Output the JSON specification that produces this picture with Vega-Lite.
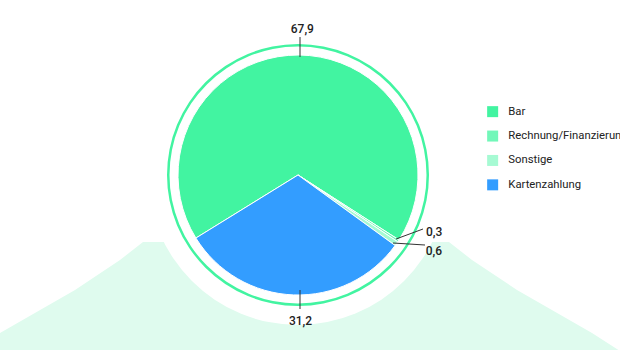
{
  "$schema": "https://vega.github.io/schema/vega-lite/v6.json",
  "width": 620,
  "height": 350,
  "padding": 0,
  "autosize": {"type": "none"},
  "background": "white",
  "config": {
    "view": {"stroke": null},
    "font": "Roboto",
    "locale": {"number": {"decimal": ",", "thousands": ".", "grouping": [3], "currency": ["", " €"]}},
    "legend": {
      "orient": "none",
      "legendX": 487,
      "legendY": 106,
      "symbolType": "square",
      "symbolSize": 121,
      "symbolStrokeWidth": 0,
      "labelFont": "Roboto",
      "labelFontSize": 11.3,
      "labelColor": "#222222",
      "labelOffset": 10,
      "labelLimit": 0,
      "rowPadding": 11.4
    }
  },
  "datasets": {
    "shares": [
      {"category": "Bar", "value": 67.9, "rank": 1},
      {"category": "Rechnung/Finanzierung", "value": 0.3, "rank": 2},
      {"category": "Sonstige", "value": 0.6, "rank": 3},
      {"category": "Kartenzahlung", "value": 31.2, "rank": 4}
    ],
    "backdrop": [
      {"bx": 0, "top": 333},
      {"bx": 75, "top": 290},
      {"bx": 120, "top": 260},
      {"bx": 143, "top": 242},
      {"bx": 449, "top": 242},
      {"bx": 472, "top": 260},
      {"bx": 517, "top": 290},
      {"bx": 592, "top": 333},
      {"bx": 620, "top": 351}
    ],
    "leaders": [
      {"lx": 300, "ly": 37, "lx2": 300, "ly2": 57},
      {"lx": 300, "ly": 290, "lx2": 300, "ly2": 309},
      {"lx": 396, "ly": 239, "lx2": 423, "ly2": 229},
      {"lx": 393, "ly": 243, "lx2": 425, "ly2": 245}
    ]
  },
  "layer": [
    {
      "data": {"name": "backdrop"},
      "mark": {"type": "area", "color": "#dffbee"},
      "encoding": {
        "x": {"field": "bx", "type": "quantitative", "scale": {"domain": [0, 620], "nice": false, "zero": false}, "axis": null},
        "y": {"field": "top", "type": "quantitative", "scale": {"domain": [0, 350], "nice": false, "zero": false, "reverse": true}, "axis": null},
        "y2": {"datum": 350}
      }
    },
    {
      "data": {"values": [{}]},
      "mark": {"type": "arc", "radius": 150, "theta": 0, "theta2": 6.2832, "fill": "white"},
      "encoding": {
        "x": {"datum": 298, "type": "quantitative"},
        "y": {"datum": 175, "type": "quantitative"}
      }
    },
    {
      "data": {"values": [{}]},
      "mark": {"type": "arc", "radius": 131, "radius2": 128.5, "theta": 0, "theta2": 6.2832, "fill": "#42f4a1"},
      "encoding": {
        "x": {"datum": 298, "type": "quantitative"},
        "y": {"datum": 175, "type": "quantitative"}
      }
    },
    {
      "data": {"name": "shares"},
      "mark": {"type": "arc", "radius": 120, "stroke": "white", "strokeWidth": 1},
      "encoding": {
        "x": {"datum": 298, "type": "quantitative"},
        "y": {"datum": 175, "type": "quantitative"},
        "theta": {"field": "value", "type": "quantitative", "stack": true, "scale": {"range": [4.1591, 10.4423]}},
        "order": {"field": "rank", "type": "quantitative"},
        "color": {
          "field": "category",
          "type": "nominal",
          "scale": {
            "domain": ["Bar", "Rechnung/Finanzierung", "Sonstige", "Kartenzahlung"],
            "range": ["#42f4a1", "#72f7b9", "#a6fad3", "#339dff"]
          },
          "legend": {"title": null}
        }
      }
    },
    {
      "data": {"name": "shares"},
      "mark": {"type": "text", "radius": 146, "dx": 3, "fontSize": 12, "fontWeight": 500, "color": "#222222", "align": "center", "baseline": "middle"},
      "encoding": {
        "x": {"datum": 298, "type": "quantitative"},
        "y": {"datum": 175, "type": "quantitative"},
        "theta": {"field": "value", "type": "quantitative", "stack": true, "scale": {"range": [4.1591, 10.4423]}},
        "order": {"field": "rank", "type": "quantitative"},
        "text": {"condition": {"test": "datum.category === 'Bar'", "field": "value", "type": "quantitative", "format": ".1f"}, "value": ""}
      }
    },
    {
      "data": {"name": "shares"},
      "mark": {"type": "text", "radius": 146, "dx": 8, "fontSize": 12, "fontWeight": 500, "color": "#222222", "align": "center", "baseline": "middle"},
      "encoding": {
        "x": {"datum": 298, "type": "quantitative"},
        "y": {"datum": 175, "type": "quantitative"},
        "theta": {"field": "value", "type": "quantitative", "stack": true, "scale": {"range": [4.1591, 10.4423]}},
        "order": {"field": "rank", "type": "quantitative"},
        "text": {"condition": {"test": "datum.category === 'Kartenzahlung'", "field": "value", "type": "quantitative", "format": ".1f"}, "value": ""}
      }
    },
    {
      "data": {"name": "shares"},
      "mark": {"type": "text", "radius": 140, "dx": 19, "dy": -20, "fontSize": 12, "fontWeight": 500, "color": "#222222", "align": "center", "baseline": "middle"},
      "encoding": {
        "x": {"datum": 298, "type": "quantitative"},
        "y": {"datum": 175, "type": "quantitative"},
        "theta": {"field": "value", "type": "quantitative", "stack": true, "scale": {"range": [4.1591, 10.4423]}},
        "order": {"field": "rank", "type": "quantitative"},
        "text": {"condition": {"test": "datum.category === 'Rechnung/Finanzierung'", "field": "value", "type": "quantitative", "format": ".1f"}, "value": ""}
      }
    },
    {
      "data": {"name": "shares"},
      "mark": {"type": "text", "radius": 140, "dx": 21, "dy": -4, "fontSize": 12, "fontWeight": 500, "color": "#222222", "align": "center", "baseline": "middle"},
      "encoding": {
        "x": {"datum": 298, "type": "quantitative"},
        "y": {"datum": 175, "type": "quantitative"},
        "theta": {"field": "value", "type": "quantitative", "stack": true, "scale": {"range": [4.1591, 10.4423]}},
        "order": {"field": "rank", "type": "quantitative"},
        "text": {"condition": {"test": "datum.category === 'Sonstige'", "field": "value", "type": "quantitative", "format": ".1f"}, "value": ""}
      }
    },
    {
      "data": {"name": "leaders"},
      "mark": {"type": "rule", "color": "#333333", "strokeWidth": 1},
      "encoding": {
        "x": {"field": "lx", "type": "quantitative"},
        "y": {"field": "ly", "type": "quantitative"},
        "x2": {"field": "lx2"},
        "y2": {"field": "ly2"}
      }
    }
  ]
}
